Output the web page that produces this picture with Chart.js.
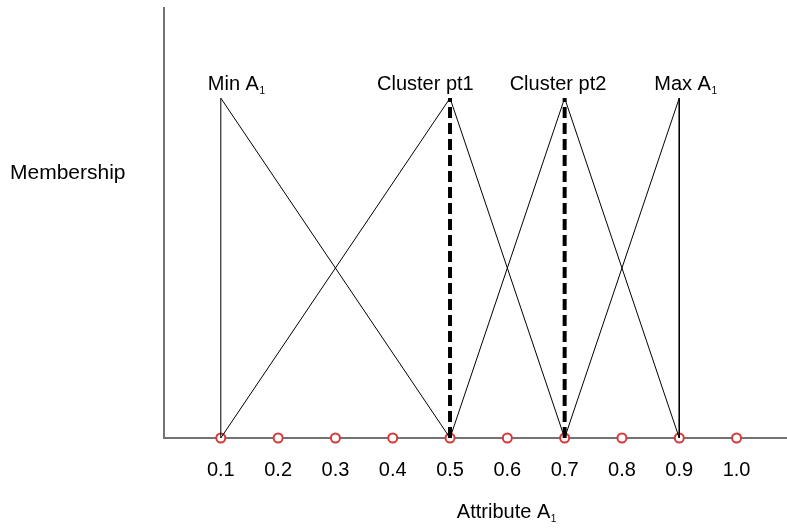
<!DOCTYPE html>
<html>
<head>
<meta charset="utf-8">
<script src="https://cdn.jsdelivr.net/npm/chart.js@4/dist/chart.umd.min.js"></script>
<style>
  html, body { margin: 0; padding: 0; background: #fff; }
  #wrap { width: 787px; height: 530px; }
</style>
</head>
<body>
<div id="wrap"><canvas id="c" width="787" height="530"></canvas></div>
<script>
// Attribute values on the x axis (tick labels and marker positions)
const tickValues = [0.1, 0.2, 0.3, 0.4, 0.5, 0.6, 0.7, 0.8, 0.9, 1.0];

// Membership functions (triangular), x and membership pairs
const minAX = [0.1, 0.1, 0.5];
const minAY = [0, 1, 0];
const cluster1X = [0.1, 0.5, 0.7];
const cluster1Y = [0, 1, 0];
const cluster2X = [0.5, 0.7, 0.9];
const cluster2Y = [0, 1, 0];
const maxAX = [0.7, 0.9, 0.9];
const maxAY = [0, 1, 0];

// Cluster points marked with dashed verticals
const clusterPoints = [0.5, 0.7];

// Peak captions: main text, subscript, x of the peak they describe
const peakNames = ['Min A', 'Cluster pt1', 'Cluster pt2', 'Max A'];
const peakSubs = ['1', '', '', '1'];
const peakX = [0.1, 0.5, 0.7, 0.9];

const FONT = '"Liberation Sans", Arial, sans-serif';

function pairs(xs, ys) { return xs.map((x, i) => ({ x: x, y: ys[i] })); }

const thin = { borderColor: '#000', borderWidth: 1, pointRadius: 0, showLine: true, fill: false, tension: 0 };

const datasets = [
  Object.assign({ data: pairs(minAX, minAY) }, thin),
  Object.assign({ data: pairs(cluster1X, cluster1Y) }, thin),
  Object.assign({ data: pairs(cluster2X, cluster2Y) }, thin),
  Object.assign({ data: pairs(maxAX, maxAY) }, thin),
];
clusterPoints.forEach(cx => {
  datasets.push({ data: [{ x: cx, y: 0 }, { x: cx, y: 1 }], borderColor: '#000', borderWidth: 4,
    borderDash: [11, 5], pointRadius: 0, showLine: true, fill: false });
});
// Markers sitting on the attribute axis
datasets.push({ data: tickValues.map(v => ({ x: v, y: 0 })), showLine: false, pointRadius: 4.5,
  pointBorderWidth: 2, pointBorderColor: '#d43a3a', pointBackgroundColor: '#fff', clip: false });

// Caption text with a small subscript
function drawSubText(ctx, x, y, main, sub, size, align) {
  ctx.font = size + 'px ' + FONT;
  const wMain = ctx.measureText(main).width;
  ctx.font = Math.round(size * 0.5) + 'px ' + FONT;
  const wSub = sub ? ctx.measureText(sub).width : 0;
  const total = wMain + wSub;
  let left = x;
  if (align === 'center') left = x - total / 2;
  ctx.textAlign = 'left';
  ctx.textBaseline = 'alphabetic';
  ctx.fillStyle = '#000';
  ctx.font = size + 'px ' + FONT;
  ctx.fillText(main, left, y);
  if (sub) {
    ctx.font = Math.round(size * 0.5) + 'px ' + FONT;
    ctx.fillText(sub, left + wMain + 0.5, y + 4);
  }
}

const peakOffsets = [-13, -73, -55, -25];

const textPlugin = {
  id: 'texts',
  afterDraw(chart) {
    const ctx = chart.ctx;
    const xs = chart.scales.x, ys = chart.scales.y;
    ctx.save();
    peakNames.forEach((name, i) => {
      drawSubText(ctx, xs.getPixelForValue(peakX[i]) + peakOffsets[i], ys.getPixelForValue(1) - 8,
        name, peakSubs[i], 20, 'left');
    });
    drawSubText(ctx, xs.getPixelForValue(0.6) - 1, 518, 'Attribute A', '1', 20, 'center');
    drawSubText(ctx, 10, 179, 'Membership', '', 21, 'left');
    ctx.restore();
  }
};

new Chart(document.getElementById('c'), {
  type: 'scatter',
  data: { datasets: datasets },
  options: {
    responsive: false,
    animation: false,
    devicePixelRatio: 1,
    layout: { autoPadding: false, padding: { top: 8, right: 0, left: 0, bottom: 0 } },
    plugins: { legend: { display: false }, tooltip: { enabled: false } },
    scales: {
      x: {
        type: 'linear', min: 0, max: 1.088,
        afterBuildTicks(scale) { scale.ticks = tickValues.map(v => ({ value: v })); },
        afterFit(scale) { scale.height = 92; },
        grid: { display: false, drawTicks: false },
        border: { display: true, color: '#737373', width: 2 },
        ticks: { color: '#000', font: { family: FONT, size: 20 }, padding: 20,
          maxRotation: 0, autoSkip: false, callback: v => Number(v).toFixed(1) }
      },
      y: {
        type: 'linear', min: 0, max: 1.265,
        afterFit(scale) { scale.width = 163.5; },
        grid: { display: false, drawTicks: false },
        border: { display: true, color: '#737373', width: 2 },
        ticks: { display: false }
      }
    }
  },
  plugins: [textPlugin]
});
</script>
</body>
</html>
